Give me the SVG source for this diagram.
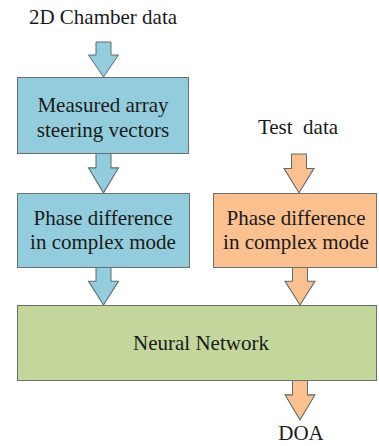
<svg xmlns="http://www.w3.org/2000/svg" width="379" height="446" viewBox="0 0 379 446">
  <style>
    .lbl { font-family: "Liberation Serif", "DejaVu Serif", serif; font-size: 21px; fill: #1a1a1a; text-anchor: middle; }
    .box { stroke: #6a6f70; stroke-width: 1; }
    .blue { fill: #93cddd; }
    .orange { fill: #fac090; }
    .green { fill: #c3d69b; }
    .arr { stroke: #5f6b6e; stroke-width: 1; stroke-linejoin: miter; }
  </style>
  <defs>
    <!-- block arrow pointing down, 30 wide: shaft 13 tall, head 22 tall -->
    <path id="down" d="M -7.5 0 H 7.5 V 13 H 15 L 0 35 L -15 13 H -7.5 Z"/>
  </defs>
  <rect width="379" height="446" fill="#ffffff"/>

  <g id="connectors">
    <use href="#down" class="arr blue" transform="translate(103.5,42)"/>
    <use href="#down" class="arr blue" transform="translate(103.5,153) scale(1,1.14)"/>
    <use href="#down" class="arr blue" transform="translate(103.5,267) scale(1,1.09)"/>
    <use href="#down" class="arr orange" transform="translate(299,154) scale(1,1.11)"/>
    <use href="#down" class="arr orange" transform="translate(300,267) scale(1,1.09)"/>
    <use href="#down" class="arr orange" transform="translate(300,380) scale(1,1.14)"/>
  </g>

  <g id="chamber-data">
    <text class="lbl" x="103" y="24">2D Chamber data</text>
  </g>

  <g id="steering-vectors">
    <rect class="box blue" x="17.5" y="77.5" width="171" height="76"/>
    <text class="lbl" x="103" y="112">Measured array</text>
    <text class="lbl" x="103" y="137">steering vectors</text>
  </g>

  <g id="phase-diff-train">
    <rect class="box blue" x="17.5" y="193.5" width="172" height="74"/>
    <text class="lbl" x="103" y="225">Phase difference</text>
    <text class="lbl" x="103" y="249">in complex mode</text>
  </g>

  <g id="test-data">
    <text class="lbl" x="298" y="134" style="white-space:pre">Test  data</text>
  </g>

  <g id="phase-diff-test">
    <rect class="box orange" x="213.5" y="193.5" width="163" height="74"/>
    <text class="lbl" x="296" y="225">Phase difference</text>
    <text class="lbl" x="296" y="249">in complex mode</text>
  </g>

  <g id="neural-network">
    <rect class="box green" x="17.5" y="305.5" width="359" height="75"/>
    <text class="lbl" x="201" y="350">Neural Network</text>
  </g>

  <g id="doa">
    <text class="lbl" x="301" y="440">DOA</text>
  </g>
</svg>
